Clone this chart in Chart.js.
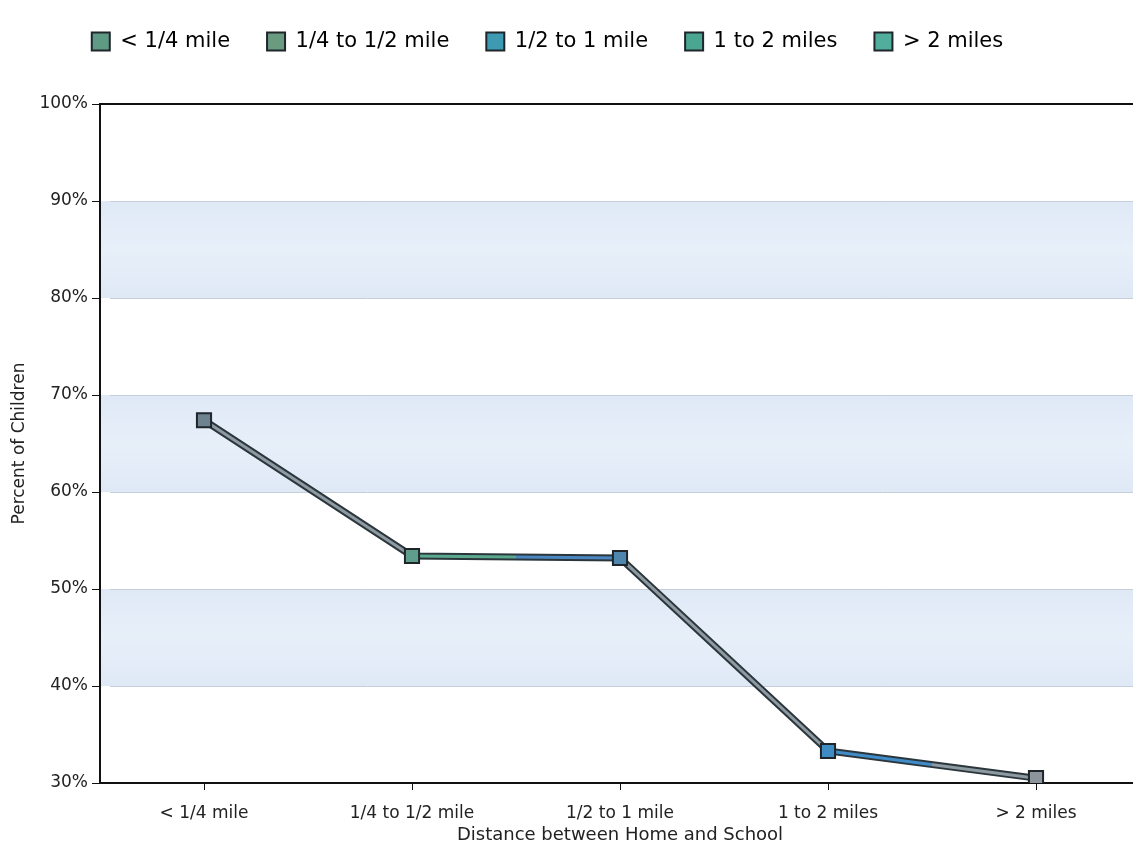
<!DOCTYPE html>
<html>
<head>
<meta charset="utf-8">
<script src="https://cdn.jsdelivr.net/npm/chart.js@4.4.1/dist/chart.umd.min.js"></script>
<style>
html,body{margin:0;padding:0;background:#fff;overflow:hidden;}
#wrap{width:1133px;height:851px;position:relative;overflow:hidden;}
</style>
</head>
<body>
<div id="wrap"><canvas id="c" width="1140" height="851"></canvas></div>
<script>
const categories = ['< 1/4 mile', '1/4 to 1/2 mile', '1/2 to 1 mile', '1 to 2 miles', '> 2 miles'];
const percentChildren = [67.4, 53.4, 53.2, 33.3, 30.5];
const yTickValues = [30, 40, 50, 60, 70, 80, 90, 100];
const bandRanges = [[40, 50], [60, 70], [80, 90]];

const FONT = 'DejaVu Sans';
const TEXT = '#222';
const markerColors = ['#6f8290', '#5f9e8a', '#4f86ad', '#3f8cc4', '#8d949c'];
const legendColors = ['#5f9a84', '#6a9a80', '#3e9ab2', '#4aa690', '#52ae9c'];
const segColors = [['#8e9aa2', '#8e9aa2'], ['#5aa88e', '#4a86c0'], ['#8e9aa2', '#8e9aa2'], ['#3f8cc8', '#8e9aa2']];

const legendSpacer = {
  id: 'legendSpacer',
  afterInit(chart) {
    const lg = chart.legend;
    if (!lg) return;
    const orig = lg.fit.bind(lg);
    lg.fit = function () { orig(); this.height += 42; };
  },
  afterLayout(chart) {
    const lg = chart.legend;
    if (!lg) return;
    lg.left -= 27;
    lg.right -= 27;
  }
};

const bandsPlugin = {
  id: 'bands',
  beforeDatasetsDraw(chart) {
    const {ctx, chartArea, scales} = chart;
    const y = scales.y;
    ctx.save();
    bandRanges.forEach(([a, b]) => {
      const top = y.getPixelForValue(b), bot = y.getPixelForValue(a);
      const g = ctx.createLinearGradient(0, top, 0, bot);
      g.addColorStop(0, '#dfe9f6');
      g.addColorStop(0.5, '#e7eff9');
      g.addColorStop(1, '#dfe9f6');
      ctx.fillStyle = g;
      ctx.fillRect(chartArea.left + 1, top, chartArea.right - chartArea.left, bot - top);
    });
    ctx.strokeStyle = '#c6cfd9';
    ctx.lineWidth = 1;
    yTickValues.slice(1, -1).forEach(v => {
      const p = Math.round(y.getPixelForValue(v)) + 0.5;
      ctx.beginPath();
      ctx.moveTo(chartArea.left + 10, p);
      ctx.lineTo(chartArea.right, p);
      ctx.stroke();
    });
    ctx.strokeStyle = '#111';
    ctx.lineWidth = 2;
    ctx.beginPath();
    ctx.moveTo(chartArea.left, chartArea.top);
    ctx.lineTo(chartArea.right, chartArea.top);
    ctx.stroke();
    ctx.restore();
  }
};

function segGradient(ctx2) {
  const i = ctx2.p0DataIndex;
  const c = ctx2.chart.ctx;
  const g = c.createLinearGradient(ctx2.p0.x, 0, ctx2.p1.x, 0);
  const [a, b] = segColors[i];
  g.addColorStop(0, a);
  g.addColorStop(0.5, a);
  g.addColorStop(0.5, b);
  g.addColorStop(1, b);
  return g;
}

new Chart(document.getElementById('c'), {
  type: 'line',
  data: {
    labels: categories,
    datasets: [
      {
        data: percentChildren,
        borderColor: '#2b363c',
        borderWidth: 7,
        pointRadius: 0,
        tension: 0,
        order: 2
      },
      {
        data: percentChildren,
        borderWidth: 3,
        tension: 0,
        segment: { borderColor: segGradient },
        pointStyle: 'rect',
        pointRadius: 10,
        pointHoverRadius: 10,
        pointBorderWidth: 2,
        pointBorderColor: '#1e262b',
        pointBackgroundColor: markerColors,
        order: 1
      }
    ]
  },
  options: {
    responsive: false,
    animation: false,
    layout: { autoPadding: false, padding: { left: 9, right: 0, top: -6, bottom: 5 } },
    plugins: {
      tooltip: { enabled: false },
      legend: {
        position: 'top',
        labels: {
          font: { family: FONT, size: 21 },
          color: TEXT,
          boxWidth: 18,
          boxHeight: 18,
          padding: 37,
          generateLabels() {
            return categories.map((c, i) => ({
              text: c,
              fillStyle: legendColors[i],
              strokeStyle: '#1e262b',
              lineWidth: 2,
              hidden: false,
              index: i
            }));
          }
        }
      }
    },
    scales: {
      x: {
        offset: true,
        afterFit(scale) { scale.paddingLeft = 0; scale.paddingRight = 0; },
        border: { display: true, color: '#111', width: 2 },
        grid: { display: true, drawOnChartArea: false, tickLength: 7, tickColor: '#111', offset: false },
        ticks: { font: { family: FONT, size: 17 }, color: TEXT, padding: 13, maxRotation: 0 },
        title: { display: true, text: 'Distance between Home and School', font: { family: FONT, size: 18 }, color: TEXT, padding: { top: -12, bottom: 0 } }
      },
      y: {
        min: 30,
        max: 100,
        afterBuildTicks(scale) { scale.ticks = yTickValues.map(v => ({ value: v })); },
        border: { display: true, color: '#111', width: 2 },
        grid: { display: true, drawOnChartArea: false, tickLength: 8, tickColor: '#111' },
        ticks: { font: { family: FONT, size: 17 }, color: TEXT, padding: 4, callback: v => v + '%' },
        title: { display: true, text: 'Percent of Children', font: { family: FONT, size: 17 }, color: TEXT, padding: { top: 0, bottom: 6 } }
      }
    }
  },
  plugins: [legendSpacer, bandsPlugin]
});
</script>
</body>
</html>
